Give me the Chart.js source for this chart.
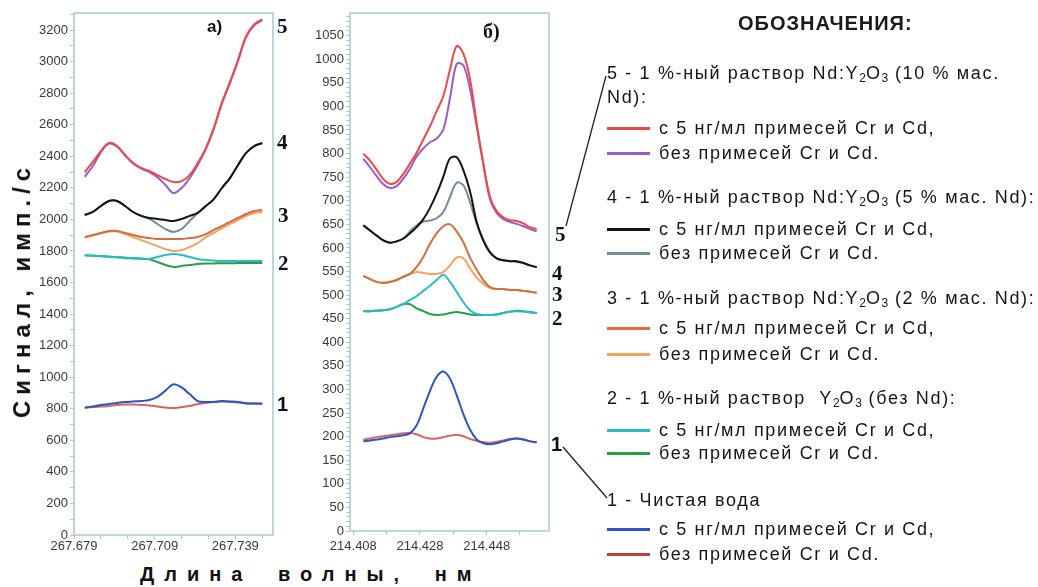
<!DOCTYPE html>
<html>
<head>
<meta charset="utf-8">
<script src="https://cdn.jsdelivr.net/npm/chart.js@4"></script>
<style>
body { margin: 0; background: #fff; width: 1038px; height: 587px; overflow: hidden; position: relative; font-family: 'Liberation Sans', Arial, sans-serif; }
.abs { position: absolute; white-space: nowrap; }
#left { position: absolute; left: 0; top: 0; }
#right { position: absolute; left: 290px; top: 0; }
.num { font-family: 'Liberation Serif', serif; font-weight: bold; font-size: 21px; color: #111; line-height: 20px; }
.leg { font-size: 18px; color: #161616; letter-spacing: 1.65px; line-height: 20px; }
.leg sub { font-size: 12px; vertical-align: -3px; letter-spacing: 0; }
.sw { position: absolute; left: 607px; width: 43px; height: 3px; }
</style>
</head>
<body>
<canvas id="left" width="290" height="560"></canvas>
<canvas id="right" width="270" height="560"></canvas>

<div class="abs" style="left:22px;top:290px;transform:translate(-50%,-50%) rotate(-90deg);font-weight:bold;font-size:24px;letter-spacing:6px;color:#111;">Сигнал, имп./с</div>
<div class="abs" style="left:140px;top:563px;font-weight:bold;font-size:20px;letter-spacing:10px;word-spacing:10px;color:#111;">Длина волны, нм</div>

<div class="abs" style="left:207px;top:17px;font-weight:bold;font-size:17px;color:#111;">а)</div>
<div class="abs" style="left:483px;top:20px;font-family:'Liberation Serif',serif;font-weight:bold;font-size:20px;color:#111;">б)</div>

<div class="abs num" style="left:277px;top:16px;">5</div>
<div class="abs num" style="left:277px;top:132px;">4</div>
<div class="abs num" style="left:278px;top:205px;">3</div>
<div class="abs num" style="left:278px;top:253px;">2</div>
<div class="abs num" style="left:277px;top:394px;font-family:'Liberation Sans',sans-serif;font-size:20px;">1</div>
<div class="abs num" style="left:555px;top:224px;">5</div>
<div class="abs num" style="left:552px;top:263px;">4</div>
<div class="abs num" style="left:552px;top:284px;">3</div>
<div class="abs num" style="left:552px;top:308px;">2</div>
<div class="abs num" style="left:551px;top:434px;font-family:'Liberation Sans',sans-serif;font-size:20px;">1</div>

<svg class="abs" style="left:0;top:0" width="1038" height="587">
  <line x1="566" y1="226" x2="606" y2="76" stroke="#222" stroke-width="1.3"/>
  <line x1="563" y1="447" x2="607" y2="498" stroke="#222" stroke-width="1.3"/>
</svg>

<div class="abs" style="left:738px;top:12px;font-weight:bold;font-size:20px;letter-spacing:1px;color:#1a1a1a;">ОБОЗНАЧЕНИЯ:</div>

<div class="abs leg" style="left:607px;top:63px;">5 - 1 %-ный раствор Nd:Y<sub>2</sub>O<sub>3</sub> (10 % мас.</div>
<div class="abs leg" style="left:607px;top:87px;">Nd):</div>
<div class="sw" style="top:127px;background:#f04848"></div>
<div class="abs leg" style="left:659px;top:118px;">с 5 нг/мл примесей Cr и Cd,</div>
<div class="sw" style="top:152px;background:#9a5cc8"></div>
<div class="abs leg" style="left:659px;top:143px;">без примесей Cr и Cd.</div>

<div class="abs leg" style="left:607px;top:187px;">4 - 1 %-ный раствор Nd:Y<sub>2</sub>O<sub>3</sub> (5 % мас. Nd):</div>
<div class="sw" style="top:228px;background:#141414"></div>
<div class="abs leg" style="left:659px;top:219px;">с 5 нг/мл примесей Cr и Cd,</div>
<div class="sw" style="top:252px;background:#6e8f98"></div>
<div class="abs leg" style="left:659px;top:243px;">без примесей Cr и Cd.</div>

<div class="abs leg" style="left:607px;top:288px;">3 - 1 %-ный раствор Nd:Y<sub>2</sub>O<sub>3</sub> (2 % мас. Nd):</div>
<div class="sw" style="top:327px;background:#ea6a3c"></div>
<div class="abs leg" style="left:659px;top:318px;">с 5 нг/мл примесей Cr и Cd,</div>
<div class="sw" style="top:353px;background:#f7a25a"></div>
<div class="abs leg" style="left:659px;top:344px;">без примесей Cr и Cd.</div>

<div class="abs leg" style="left:607px;top:388px;">2 - 1 %-ный раствор&nbsp; Y<sub>2</sub>O<sub>3</sub> (без Nd):</div>
<div class="sw" style="top:429px;background:#26bcc8"></div>
<div class="abs leg" style="left:659px;top:420px;">с 5 нг/мл примесей Cr и Cd,</div>
<div class="sw" style="top:452px;background:#25a048"></div>
<div class="abs leg" style="left:659px;top:443px;">без примесей Cr и Cd.</div>

<div class="abs leg" style="left:607px;top:490px;">1 - Чистая вода</div>
<div class="sw" style="top:528px;background:#2a55c8"></div>
<div class="abs leg" style="left:659px;top:519px;">с 5 нг/мл примесей Cr и Cd,</div>
<div class="sw" style="top:553px;background:#c04038"></div>
<div class="abs leg" style="left:659px;top:544px;">без примесей Cr и Cd.</div>

<script>
// а) 267.7 nm
var leftX = [267.683, 267.686, 267.689, 267.692, 267.695, 267.698, 267.701, 267.704, 267.707, 267.710, 267.713, 267.716,
             267.719, 267.722, 267.725, 267.728, 267.731, 267.734, 267.737, 267.740, 267.743, 267.746, 267.749];
var left5a = [2300, 2364, 2433, 2484, 2465, 2408, 2357, 2326, 2307, 2281, 2256, 2237, 2243, 2281, 2357, 2450, 2580, 2740, 2870, 3010, 3160, 3235, 3268];
var left5b = [2270, 2338, 2425, 2480, 2462, 2405, 2354, 2322, 2300, 2268, 2218, 2167, 2199, 2262, 2345, 2445, 2575, 2735, 2865, 3005, 3155, 3230, 3262];
var left4a = [2028, 2047, 2085, 2117, 2117, 2085, 2047, 2022, 2009, 2003, 1996, 1990, 2003, 2022, 2041, 2085, 2129, 2199, 2262, 2345, 2421, 2465, 2484];
var left4b = [2028, 2047, 2085, 2117, 2117, 2085, 2047, 2022, 2003, 1971, 1939, 1920, 1939, 1990, 2041, 2085, 2129, 2199, 2262, 2345, 2421, 2465, 2484];
var left3a = [1888, 1901, 1914, 1926, 1926, 1914, 1901, 1888, 1882, 1876, 1876, 1876, 1876, 1882, 1888, 1907, 1933, 1958, 1984, 2009, 2034, 2053, 2060];
var left3b = [1885, 1898, 1911, 1923, 1923, 1907, 1888, 1869, 1850, 1831, 1812, 1800, 1806, 1825, 1850, 1888, 1914, 1945, 1971, 1996, 2022, 2041, 2047];
var left2a = [1774, 1771, 1768, 1765, 1762, 1758, 1755, 1752, 1749, 1762, 1774, 1781, 1774, 1762, 1749, 1743, 1739, 1736, 1736, 1736, 1736, 1736, 1736];
var left2b = [1772, 1769, 1766, 1763, 1760, 1756, 1753, 1750, 1747, 1730, 1711, 1698, 1705, 1711, 1717, 1720, 1721, 1722, 1722, 1723, 1723, 1724, 1724];
var left1a = [808, 814, 824, 830, 837, 843, 846, 849, 855, 875, 915, 955, 935, 893, 849, 843, 843, 849, 846, 843, 833, 833, 833];
var left1b = [807, 811, 814, 817, 824, 827, 827, 824, 821, 814, 808, 805, 811, 817, 830, 837, 843, 846, 843, 840, 837, 833, 830];

// б) 214.4 nm
var rightX = [214.411, 214.413, 214.415, 214.417, 214.419, 214.421, 214.423, 214.425, 214.427, 214.429, 214.431, 214.433, 214.435, 214.437,
              214.439, 214.441, 214.443, 214.445, 214.447, 214.449, 214.451, 214.453, 214.455, 214.457, 214.459, 214.461, 214.463];
var right5a = [800, 785, 766, 746, 736, 740, 757, 779, 802, 830, 858, 890, 922, 978, 1028, 1012, 958, 864, 779, 708, 678, 665, 659, 657, 652, 644, 640];
var right5b = [789, 771, 752, 735, 727, 731, 747, 768, 794, 811, 824, 832, 851, 918, 990, 987, 937, 858, 777, 703, 674, 661, 655, 651, 646, 640, 635];
var right4a = [648, 637, 626, 616, 611, 614, 620, 631, 644, 661, 685, 715, 751, 790, 792, 765, 720, 655, 615, 590, 578, 574, 572, 572, 568, 563, 559];
var right4b = [648, 637, 626, 616, 611, 614, 620, 635, 648, 656, 658, 663, 676, 708, 738, 733, 697, 652, 618, 592, 578, 574, 572, 570, 568, 563, 559];
var right3a = [541, 534, 528, 526, 528, 532, 539, 545, 560, 581, 609, 631, 646, 650, 635, 612, 580, 554, 532, 517, 513, 513, 511, 511, 509, 507, 505];
var right3b = [541, 534, 528, 526, 528, 532, 539, 545, 549, 547, 545, 545, 549, 563, 580, 578, 557, 537, 524, 515, 513, 513, 511, 511, 509, 507, 505];
var right2a = [466, 466, 467, 468, 470, 475, 481, 490, 498, 509, 520, 532, 543, 528, 507, 485, 468, 460, 458, 458, 459, 462, 465, 466, 465, 463, 462];
var right2b = [466, 466, 467, 468, 470, 475, 481, 481, 472, 466, 460, 458, 459, 462, 464, 462, 459, 458, 458, 458, 459, 462, 465, 467, 466, 464, 462];
var right1a = [190, 192, 194, 196, 199, 201, 203, 207, 224, 260, 297, 327, 338, 323, 288, 248, 215, 194, 186, 184, 186, 190, 194, 196, 194, 190, 188];
var right1b = [194, 196, 199, 201, 203, 205, 207, 208, 205, 199, 196, 196, 199, 202, 204, 201, 195, 191, 188, 187, 189, 192, 195, 196, 194, 190, 188];

// оси
var leftXTicks = [267.679, 267.689, 267.699, 267.709, 267.719, 267.729, 267.739, 267.749];
var leftXLabels = ["267.679", "267.709", "267.739"];
var rightXTicks = [214.408, 214.418, 214.428, 214.438, 214.448, 214.458];
var rightXLabels = ["214.408", "214.428", "214.448"];
var leftYStep = 100, leftYLabelStep = 200, leftYMax = 3308;
var rightYStep = 10, rightYLabelStep = 50, rightYMax = 1098;

// цвета линий: [с примесями, без примесей]
var colors5 = ['#f04848', '#9a5cc8'];
var colors4 = ['#141414', '#6e8f98'];
var colors3 = ['#d0703c', '#f7a25a'];
var colors2 = ['#26bcc8', '#25a048'];
var colors1 = ['#2a55c8', '#e06060'];

var frameColor = '#a8c8d8';

function createData(xs, ys, color) {
    return {
        data: xs.map(function (x, i) { return { x: x, y: ys[i] }; }),
        borderColor: color,
        borderWidth: 2,
        pointRadius: 0,
        tension: 0.35,
        fill: false
    };
}

var framePlugin = {
    id: 'frame',
    afterDraw: function (chart) {
        var a = chart.chartArea, ctx = chart.ctx;
        ctx.save();
        ctx.strokeStyle = frameColor;
        ctx.lineWidth = 1.5;
        ctx.strokeRect(a.left, a.top, a.right - a.left, a.bottom - a.top);
        ctx.restore();
    }
};

function range(step, max) {
    var t = [];
    for (var v = 0; v <= max; v += step) t.push(v);
    return t;
}

function makeChart(id, xs, sets, xTicks, xLabels, yStep, yLabelStep, yMax, yWidth, xHeight, pad, xPad) {
    var xmin = id == 'left' ? 267.679 : 214.407;
    var xmax = id == 'left' ? 267.753 : 214.4667;
    var yTicks = range(yStep, yMax);
    return new Chart(document.getElementById(id), {
        type: 'line',
        data: { datasets: sets },
        options: {
            responsive: false,
            animation: false,
            layout: { padding: pad },
            plugins: { legend: { display: false }, tooltip: { enabled: false } },
            scales: {
                x: {
                    type: 'linear', min: xmin, max: xmax,
                    afterBuildTicks: function (s) { s.ticks = xTicks.map(function (v) { return { value: v }; }); },
                    afterFit: function (s) { s.height = xHeight; },
                    border: { display: false },
                    grid: { drawOnChartArea: false, drawTicks: true, tickLength: 4, color: frameColor },
                    ticks: {
                        autoSkip: false, maxRotation: 0, padding: xPad, color: '#3a3a3a',
                        font: { family: 'Liberation Sans', size: 13 },
                        callback: function (v) { var s = v.toFixed(3); return xLabels.indexOf(s) >= 0 ? s : ''; }
                    }
                },
                y: {
                    min: 0, max: yMax,
                    afterBuildTicks: function (s) { s.ticks = yTicks.map(function (v) { return { value: v }; }); },
                    afterFit: function (s) { s.width = yWidth; },
                    border: { display: false },
                    grid: { drawOnChartArea: false, drawTicks: true, tickLength: 4, color: frameColor },
                    ticks: {
                        autoSkip: false, padding: 2, color: '#3a3a3a',
                        font: { family: 'Liberation Sans', size: 13 },
                        callback: function (v) { return v % yLabelStep == 0 ? String(v) : ''; }
                    }
                }
            }
        },
        plugins: [framePlugin]
    });
}

// первый набор рисуется поверх остальных
makeChart('left', leftX, [
    createData(leftX, left5a, colors5[0]), createData(leftX, left5b, colors5[1]),
    createData(leftX, left4a, colors4[0]), createData(leftX, left4b, colors4[1]),
    createData(leftX, left3a, colors3[0]), createData(leftX, left3b, colors3[1]),
    createData(leftX, left2a, colors2[0]), createData(leftX, left2b, colors2[1]),
    createData(leftX, left1a, colors1[0]), createData(leftX, left1b, colors1[1])
], leftXTicks, leftXLabels, leftYStep, leftYLabelStep, leftYMax, 74, 25, { top: 13, right: 17, left: 0, bottom: 0 }, 0);

makeChart('right', rightX, [
    createData(rightX, right5a, colors5[0]), createData(rightX, right5b, colors5[1]),
    createData(rightX, right4a, colors4[0]), createData(rightX, right4b, colors4[1]),
    createData(rightX, right3a, colors3[0]), createData(rightX, right3b, colors3[1]),
    createData(rightX, right2a, colors2[0]), createData(rightX, right2b, colors2[1]),
    createData(rightX, right1a, colors1[0]), createData(rightX, right1b, colors1[1])
], rightXTicks, rightXLabels, rightYStep, rightYLabelStep, rightYMax, 60, 29, { top: 13, right: 11, left: 0, bottom: 0 }, 4);
</script>
</body>
</html>
